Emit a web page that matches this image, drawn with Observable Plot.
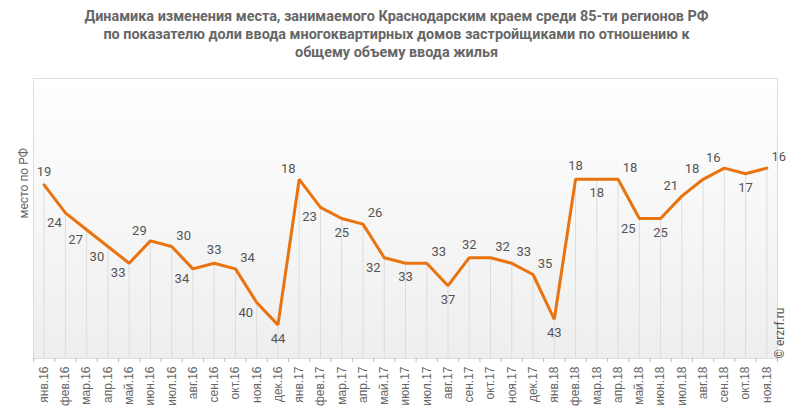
<!DOCTYPE html>
<html>
<head>
<meta charset="utf-8">
<script src="https://cdn.jsdelivr.net/npm/d3@7"></script>
<script src="https://cdn.jsdelivr.net/npm/@observablehq/plot@0.6"></script>
<style>
  body { margin: 0; background: #fff; }
  #wrap { position: relative; width: 793px; height: 415px; }
  #title { position: absolute; left: 0; top: 8px; width: 793px; text-align: center;
    font-family: Roboto, sans-serif; font-weight: bold; font-size: 14.4px; line-height: 18px; color: #666; }
</style>
</head>
<body>
<svg width="0" height="0" style="position:absolute">
  <defs>
    <linearGradient id="bg" x1="0" y1="0" x2="0" y2="1">
      <stop offset="0" stop-color="#ffffff"/>
      <stop offset="1" stop-color="#eeeeee"/>
    </linearGradient>
  </defs>
</svg>
<div id="wrap">
  <div id="title">Динамика изменения места, занимаемого Краснодарским краем среди 85-ти регионов РФ<br>по показателю доли ввода многоквартирных домов застройщиками по отношению к<br>общему объему ввода жилья</div>
</div>
<script>
const months = [
  "янв.16","фев.16","мар.16","апр.16","май.16","июн.16","июл.16","авг.16","сен.16","окт.16","ноя.16","дек.16",
  "янв.17","фев.17","мар.17","апр.17","май.17","июн.17","июл.17","авг.17","сен.17","окт.17","ноя.17","дек.17",
  "янв.18","фев.18","мар.18","апр.18","май.18","июн.18","июл.18","авг.18","сен.18","окт.18","ноя.18"
];
const places = [
  19,24,27,30,33,29,30,34,33,34,40,44,
  18,23,25,26,32,33,33,37,32,32,33,35,
  43,18,18,18,25,25,21,18,16,17,16
];
// label placement relative to the point (compass direction)
const labelSide = [
  "n","sw","sw","sw","sw","nw","ne","sw","n","ne","sw","s",
  "nw","sw","s","ne","sw","s","ne","s","n","ne","ne","ne",
  "s","n","s","ne","sw","s","nw","nw","nw","s","ne"
];
const yTitle = "место по РФ";
const credit = "© erzrf.ru";

const offsets = {n:[0,-13], s:[0,14], sw:[-11,10], nw:[-11,-10], ne:[12,-11]};
const data = places.map((v, i) => ({i, v, month: months[i], side: labelSide[i]}));
const idx = d3.range(months.length);
const edges = d3.range(months.length + 1).map(i => i - 0.5);

const labelMarks = Object.entries(offsets).map(([side, [dx, dy]]) =>
  Plot.text(data.filter(d => d.side === side), {x: "i", y: "v", text: d => String(d.v), dx, dy,
    fill: "#555", fontSize: 13})
);

const chart = Plot.plot({
  width: 793,
  height: 415,
  marginTop: 78,
  marginBottom: 57,
  marginLeft: 33,
  marginRight: 16,
  style: {fontFamily: "Roboto, sans-serif", fontSize: "11px", color: "#666", background: "transparent"},
  x: {type: "linear", domain: [-0.5, months.length - 0.5]},
  y: {domain: [0, 50], reverse: true, axis: null},
  marks: [
    Plot.frame({fill: "url(#bg)", stroke: "#dcdcdc"}),
    Plot.ruleX(data, {x: "i", y1: "v", y2: 50, stroke: "#dcdcdc", strokeWidth: 1}),
    Plot.line(data, {x: "i", y: "v", stroke: "#e8730f", strokeWidth: 3, strokeLinejoin: "miter"}),
    ...labelMarks,
    Plot.axisX({ticks: edges, tickSize: 4, tickFormat: () => "", stroke: "#bbb", label: null}),
    Plot.axisX({ticks: idx, tickSize: 0, tickPadding: 8, tickRotate: -90, tickFormat: i => months[i],
      fill: "#666", fontSize: 12, fontFamily: "'Liberation Sans', Arial, sans-serif", label: null}),
    Plot.text([yTitle], {frameAnchor: "left", dx: -9, rotate: -90, fill: "#666", fontSize: 12}),
    Plot.text([credit], {frameAnchor: "bottom-right", dx: 6, rotate: -90, textAnchor: "start", fill: "#555", fontSize: 12})
  ]
});
document.getElementById("wrap").prepend(chart);
chart.style.position = "absolute";
chart.style.left = "0";
chart.style.top = "0";
</script>
</body>
</html>
